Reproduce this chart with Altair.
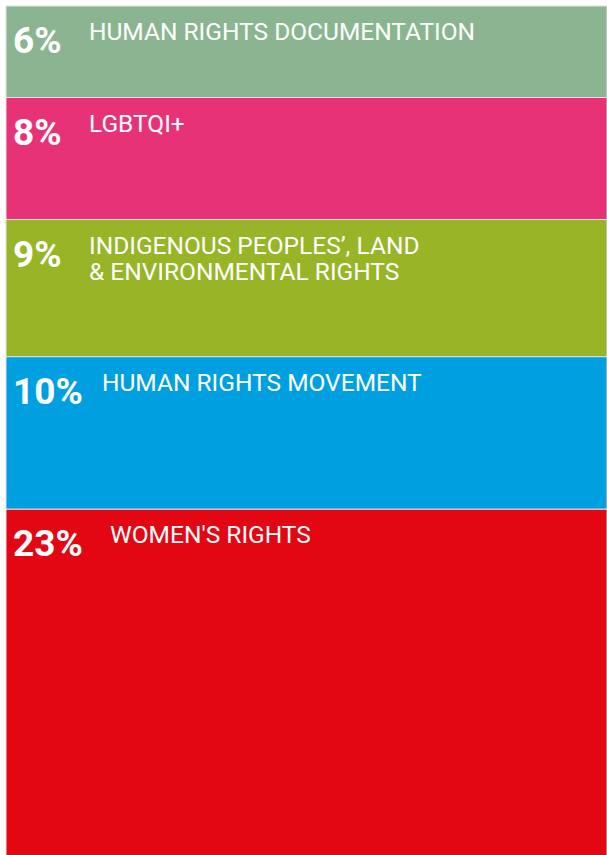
import altair as alt
import pandas as pd

categories = [
    "HUMAN RIGHTS DOCUMENTATION",
    "LGBTQI+",
    "INDIGENOUS PEOPLES’, LAND\n & ENVIRONMENTAL RIGHTS",
    "HUMAN RIGHTS MOVEMENT",
    "WOMEN'S RIGHTS",
]
values = [6, 8, 9, 10, 23]
colors = ["#8BB591", "#E83278", "#97B526", "#009FE0", "#E30613"]

df = pd.DataFrame({
    "order": list(range(len(values))),
    "category": categories,
    "value": values,
    "pct": [f"{v}%" for v in values],
})

total = sum(values)
W = 601

base = alt.Chart(df).transform_window(
    cum="sum(value)", sort=[alt.SortField("order")]
).transform_calculate(
    start="datum.cum - datum.value",
    # label starts a fixed gap after the percentage text (approx. text width)
    labelx="(length(datum.pct) > 2 ? (indexof(datum.pct, '1') == 0 ? 96 : 104) : 83) / %d" % W,
)

yscale = alt.Scale(domain=[0, total], reverse=True, nice=False, zero=False)

rects = base.mark_rect(stroke="#e2e2e2", strokeWidth=1).encode(
    x=alt.value(0),
    x2=alt.value(W),
    y=alt.Y("start:Q", scale=yscale, axis=None),
    y2="cum:Q",
    color=alt.Color("category:N", scale=alt.Scale(domain=categories, range=colors), legend=None),
)

pct_text = base.mark_text(
    align="left", baseline="alphabetic", font="Roboto", fontWeight="bold",
    fontSize=37, color="white", dy=47,
).encode(
    x=alt.value(7),
    y=alt.Y("start:Q", scale=yscale, axis=None),
    text="pct:N",
)

label_text = base.mark_text(
    align="left", baseline="alphabetic", font="Roboto", fontWeight="normal",
    fontSize=24.5, color="white", dy=34, lineBreak="\n", lineHeight=26,
).encode(
    x=alt.X("labelx:Q", scale=alt.Scale(domain=[0, 1], nice=False, zero=False), axis=None),
    y=alt.Y("start:Q", scale=yscale, axis=None),
    text="category:N",
)

chart = alt.layer(rects, pct_text, label_text).properties(
    width=W, height=854,
    padding={"left": 6, "top": 6, "right": 0, "bottom": 0},
    autosize=alt.AutoSizeParams(type="none"),
    background="white",
).configure_view(stroke=None)

chart.save("out.html", embed_options={"renderer": "svg", "actions": False})
